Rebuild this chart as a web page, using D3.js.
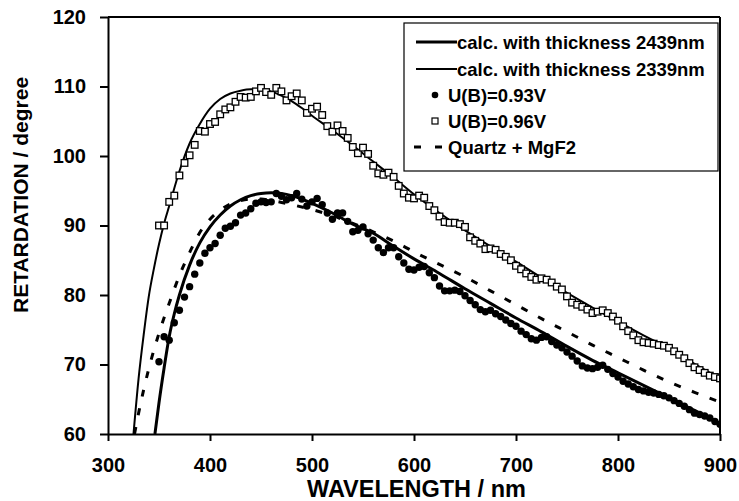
<!DOCTYPE html>
<html lang="en">
<head>
    <meta charset="utf-8">
    <title>Retardation vs wavelength</title>
    <script src="https://d3js.org/d3.v7.min.js"></script>
    <style type="text/css">
        body { margin: 0; background: #fff; }
        text { font-family: "Liberation Sans", Arial, sans-serif; font-weight: bold; fill: #000; }
    </style>
</head>
<body>
<script type="text/javascript">
    //Width and height
    var w = 739;
    var h = 501;

    //calculated curve, thickness 2439nm
    var calcThickX = [346, 350, 355, 360, 365, 370, 380, 390, 400, 410, 420, 430, 440, 450, 460, 470, 480, 490, 500, 520, 540, 560, 580, 600, 625, 650, 675, 700, 725, 750, 775, 800, 825, 850, 875, 900];
    var calcThickY = [60, 64.5, 69.5, 74.0, 77.3, 80.0, 84.3, 87.5, 89.8, 91.5, 92.8, 93.7, 94.3, 94.6, 94.7, 94.6, 94.3, 93.8, 93.2, 91.8, 90.2, 88.9, 87.0, 85.2, 83.1, 80.9, 78.8, 76.7, 74.7, 72.6, 70.6, 68.8, 67.0, 65.2, 63.4, 61.5];

    //calculated curve, thickness 2339nm
    var calcThinX = [325, 330, 335, 340, 345, 350, 355, 360, 370, 380, 390, 400, 410, 420, 430, 440, 450, 460, 470, 480, 490, 500, 520, 540, 560, 580, 600, 625, 650, 675, 700, 725, 750, 775, 800, 825, 850, 875, 900];
    var calcThinY = [60, 68.0, 74.3, 79.8, 83.8, 87.3, 90.3, 92.8, 97.8, 101.8, 104.6, 106.8, 108.2, 109.0, 109.4, 109.6, 109.6, 109.3, 108.7, 107.9, 106.9, 105.8, 103.7, 101.5, 99.2, 96.9, 94.5, 91.8, 89.3, 87.0, 84.8, 82.5, 80.3, 78.2, 76.2, 74.2, 72.3, 70.1, 68.0];

    //Quartz + MgF2
    var quartzX = [326, 330, 340, 350, 360, 370, 380, 390, 400, 410, 420, 430, 440, 450, 460, 480, 500, 520, 540, 560, 590, 600, 625, 650, 675, 700, 725, 750, 775, 800, 825, 850, 875, 900];
    var quartzY = [60, 63.0, 69.4, 74.5, 78.8, 82.8, 86.1, 89.0, 90.9, 92.2, 93.1, 93.6, 93.8, 93.8, 93.6, 93.0, 92.3, 91.4, 90.3, 89.1, 87.0, 86.2, 84.4, 82.6, 80.6, 78.6, 76.6, 74.7, 72.8, 71.0, 69.2, 67.5, 66.0, 64.6];

    //measured, U(B)=0.96V (open squares)
    var sqX = [350, 355, 360, 365, 370, 375, 380, 385, 390, 395, 400, 405, 410, 415, 420, 425, 430, 435, 440, 445, 450, 455, 460, 465, 470, 475, 480, 485, 490, 495, 500, 505, 510, 515, 520, 525, 530, 535, 540, 545, 550, 555, 560, 565, 570, 575, 580, 585, 590, 595, 600, 605, 610, 615, 620, 625, 630, 635, 640, 645, 650, 655, 660, 665, 670, 675, 680, 685, 690, 695, 700, 705, 710, 715, 720, 725, 730, 735, 740, 745, 750, 755, 760, 765, 770, 775, 780, 785, 790, 795, 800, 805, 810, 815, 820, 825, 830, 835, 840, 845, 850, 855, 860, 865, 870, 875, 880, 885, 890, 895, 900];
    var sqY = [90.0, 90.0, 93.4, 94.3, 97.2, 99.0, 100.1, 101.6, 103.6, 103.5, 104.6, 104.9, 106.0, 106.7, 107.0, 107.8, 108.5, 108.4, 108.5, 109.3, 109.8, 109.2, 108.8, 109.8, 109.3, 108.0, 108.6, 109.0, 108.0, 106.2, 106.8, 107.1, 105.9, 104.3, 103.5, 104.4, 103.6, 102.6, 101.3, 100.4, 101.2, 100.3, 98.6, 97.5, 97.3, 97.6, 97.0, 95.7, 94.6, 94.0, 93.9, 94.3, 94.0, 92.8, 92.2, 91.3, 90.5, 90.4, 90.4, 90.2, 89.8, 88.3, 87.8, 87.4, 86.6, 86.7, 86.5, 85.9, 85.5, 85.0, 84.2, 83.7, 83.1, 82.6, 82.2, 82.4, 82.2, 81.8, 81.2, 80.8, 79.8, 78.9, 78.6, 78.3, 77.9, 77.4, 77.6, 77.8, 77.4, 76.9, 76.3, 75.5, 74.8, 74.2, 73.5, 73.2, 73.1, 73.0, 72.8, 72.7, 72.4, 71.9, 71.4, 70.9, 70.2, 69.6, 69.2, 68.8, 68.4, 68.2, 68.0];

    //measured, U(B)=0.93V (filled dots)
    var dotX = [350, 355, 360, 365, 370, 375, 380, 385, 390, 395, 400, 405, 410, 415, 420, 425, 430, 435, 440, 445, 450, 455, 460, 465, 470, 475, 480, 485, 490, 495, 500, 505, 510, 515, 520, 525, 530, 535, 540, 545, 550, 555, 560, 565, 570, 575, 580, 585, 590, 595, 600, 605, 610, 615, 620, 625, 630, 635, 640, 645, 650, 655, 660, 665, 670, 675, 680, 685, 690, 695, 700, 705, 710, 715, 720, 725, 730, 735, 740, 745, 750, 755, 760, 765, 770, 775, 780, 785, 790, 795, 800, 805, 810, 815, 820, 825, 830, 835, 840, 845, 850, 855, 860, 865, 870, 875, 880, 885, 890, 895, 900];
    var dotY = [70.4, 74.0, 73.5, 76.0, 77.8, 79.7, 81.2, 83.0, 84.6, 86.0, 86.8, 87.4, 88.6, 89.6, 89.9, 90.4, 91.5, 91.8, 92.4, 93.2, 93.4, 93.3, 93.4, 94.6, 94.2, 93.7, 94.0, 94.6, 93.8, 92.8, 93.4, 93.9, 93.0, 91.8, 90.9, 91.8, 91.8, 90.6, 89.1, 89.3, 89.8, 88.8, 87.9, 86.8, 86.1, 86.8, 86.8, 85.5, 84.6, 83.7, 83.6, 84.0, 84.1, 83.2, 82.5, 81.3, 80.6, 80.6, 80.7, 80.5, 79.9, 79.2, 78.6, 77.9, 77.6, 77.8, 77.3, 76.9, 76.4, 75.9, 75.5, 74.8, 74.3, 73.7, 73.5, 73.9, 74.0, 73.3, 72.8, 72.4, 71.8, 71.2, 70.5, 69.8, 69.5, 69.4, 69.6, 69.9, 69.3, 68.7, 68.2, 67.6, 67.2, 66.8, 66.4, 66.2, 66.0, 65.9, 65.7, 65.5, 65.2, 64.8, 64.4, 64.0, 63.5, 63.0, 62.8, 62.6, 62.3, 61.8, 61.4];

    var xTicks = [300, 400, 500, 600, 700, 800, 900];
    var yTicks = [60, 70, 80, 90, 100, 110, 120];

    var legendLabels = ["calc. with thickness 2439nm", "calc. with thickness 2339nm", "U(B)=0.93V", "U(B)=0.96V", "Quartz + MgF2"];

    function zip(xs, ys) {
        return xs.map(function(x, i) { return { x: x, y: ys[i] }; });
    }

    //plot area edges
    var pLeft = 108, pRight = 720, pTop = 17, pBottom = 434;

    var xScale = d3.scaleLinear().domain([300, 900]).range([pLeft, pRight]);
    var yScale = d3.scaleLinear().domain([60, 120]).range([pBottom, pTop]);

    var svg = d3.select("body")
        .append("svg")
        .attr("width", w)
        .attr("height", h);

    svg.append("defs").append("clipPath")
        .attr("id", "plot")
        .append("rect")
        .attr("x", pLeft).attr("y", pTop)
        .attr("width", pRight - pLeft).attr("height", pBottom - pTop);

    var line = d3.line()
        .x(function(d) { return xScale(d.x); })
        .y(function(d) { return yScale(d.y); })
        .curve(d3.curveMonotoneX);

    var plot = svg.append("g").attr("clip-path", "url(#plot)");

    //dashed quartz curve
    plot.append("path")
        .datum(zip(quartzX, quartzY))
        .attr("d", line)
        .attr("fill", "none")
        .attr("stroke", "#000")
        .attr("stroke-width", 3)
        .attr("stroke-dasharray", "7,12");

    //thin calc curve
    plot.append("path")
        .datum(zip(calcThinX, calcThinY))
        .attr("d", line)
        .attr("fill", "none")
        .attr("stroke", "#000")
        .attr("stroke-width", 2);

    //squares
    plot.selectAll("rect.sq")
        .data(zip(sqX, sqY))
        .enter()
        .append("rect")
        .attr("class", "sq")
        .attr("x", function(d) { return xScale(d.x) - 3.3; })
        .attr("y", function(d) { return yScale(d.y) - 3.3; })
        .attr("width", 6.6)
        .attr("height", 6.6)
        .attr("fill", "#fff")
        .attr("stroke", "#000")
        .attr("stroke-width", 1.3);

    //thick calc curve
    plot.append("path")
        .datum(zip(calcThickX, calcThickY))
        .attr("d", line)
        .attr("fill", "none")
        .attr("stroke", "#000")
        .attr("stroke-width", 3);

    //dots
    plot.selectAll("circle.dot")
        .data(zip(dotX, dotY))
        .enter()
        .append("circle")
        .attr("class", "dot")
        .attr("cx", function(d) { return xScale(d.x); })
        .attr("cy", function(d) { return yScale(d.y); })
        .attr("r", 3.7)
        .attr("fill", "#000");

    //frame
    svg.append("line").attr("x1", pLeft).attr("x2", pRight).attr("y1", pTop).attr("y2", pTop)
        .attr("stroke", "#000").attr("stroke-width", 2);
    svg.append("line").attr("x1", pRight).attr("x2", pRight).attr("y1", pTop).attr("y2", pBottom)
        .attr("stroke", "#000").attr("stroke-width", 2);

    //X axis
    var xAxis = d3.axisBottom(xScale)
        .tickValues(xTicks)
        .tickSize(7)
        .tickPadding(17)
        .tickSizeOuter(0);
    var gx = svg.append("g")
        .attr("transform", "translate(0," + pBottom + ")")
        .call(xAxis);

    //Y axis
    var yAxis = d3.axisLeft(yScale)
        .tickValues(yTicks)
        .tickSize(8)
        .tickPadding(14)
        .tickSizeOuter(0);
    var gy = svg.append("g")
        .attr("transform", "translate(" + pLeft + ",0)")
        .call(yAxis);

    [gx, gy].forEach(function(g) {
        g.select(".domain").attr("stroke", "#000").attr("stroke-width", 2);
        g.selectAll(".tick line").attr("stroke", "#000").attr("stroke-width", 2);
        g.selectAll(".tick text")
            .attr("fill", "#000")
            .style("font-family", "'Liberation Sans', Arial, sans-serif")
            .style("font-weight", "bold")
            .style("font-size", "20px");
    });

    //axis titles
    svg.append("text")
        .attr("x", 307)
        .attr("y", 497)
        .style("font-size", "23.5px")
        .text("WAVELENGTH / nm");

    svg.append("text")
        .attr("transform", "translate(28,313) rotate(-90)")
        .style("font-size", "21px")
        .text("RETARDATION / degree");

    //legend
    var legend = svg.append("g");
    legend.append("rect")
        .attr("x", 404).attr("y", 23)
        .attr("width", 314).attr("height", 148)
        .attr("fill", "#fff")
        .attr("stroke", "#000")
        .attr("stroke-width", 1.2);

    var rowY = [42, 69, 95, 121, 147];

    legend.append("line")
        .attr("x1", 416).attr("x2", 457).attr("y1", rowY[0]).attr("y2", rowY[0])
        .attr("stroke", "#000").attr("stroke-width", 3);
    legend.append("line")
        .attr("x1", 416).attr("x2", 457).attr("y1", rowY[1]).attr("y2", rowY[1])
        .attr("stroke", "#000").attr("stroke-width", 2);
    legend.append("circle")
        .attr("cx", 435).attr("cy", rowY[2]).attr("r", 3.3).attr("fill", "#000");
    legend.append("rect")
        .attr("x", 432).attr("y", rowY[3] - 3).attr("width", 6).attr("height", 6)
        .attr("fill", "#fff").attr("stroke", "#000").attr("stroke-width", 1.2);
    legend.append("line")
        .attr("x1", 414).attr("x2", 442).attr("y1", rowY[4]).attr("y2", rowY[4])
        .attr("stroke", "#000").attr("stroke-width", 3)
        .attr("stroke-dasharray", "7,14");

    legend.selectAll("text.lab")
        .data(legendLabels)
        .enter()
        .append("text")
        .attr("class", "lab")
        .attr("x", function(d, i) { return i < 2 ? 457 : 448; })
        .attr("y", function(d, i) { return rowY[i] + 6.5; })
        .style("font-size", "18.5px")
        .text(function(d) { return d; });
</script>
</body>
</html>
